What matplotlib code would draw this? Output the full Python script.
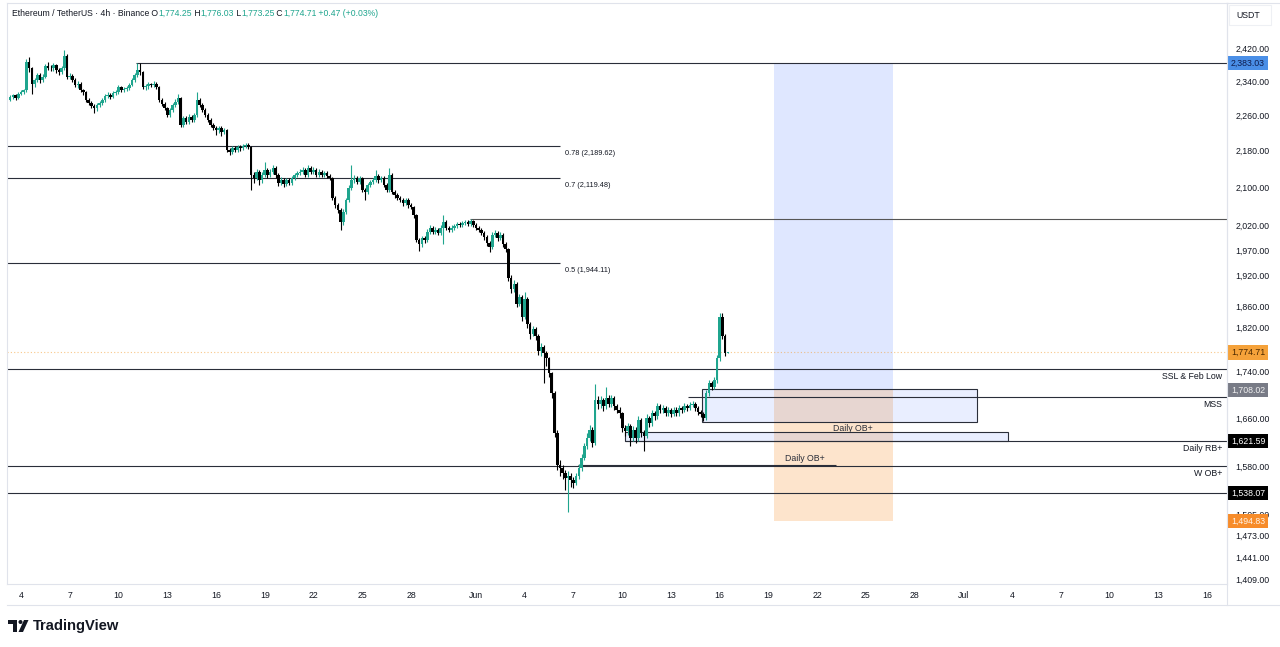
#!/usr/bin/env python3
"""ETH/USDT 4h chart with SMC levels, rebuilt from a TradingView screenshot."""

from datetime import datetime, timedelta

import matplotlib
matplotlib.use("Agg")
import matplotlib.pyplot as plt
import matplotlib.dates as mdates
from matplotlib.patches import Rectangle, Circle, Polygon
from matplotlib.lines import Line2D
from matplotlib.ticker import NullLocator
from matplotlib.transforms import IdentityTransform

plt.rcParams["font.family"] = ["Liberation Sans", "DejaVu Sans"]

# --- data -------------------------------------------------------------------
FIRST_CANDLE = datetime(2025, 5, 3, 8)
FIRST_OPEN = 2296

closes = [
    2302, 2306, 2300, 2310, 2313, 2318, 2385, 2370, 2332, 2342,
    2354, 2342, 2350, 2376, 2372, 2370, 2378, 2366, 2361, 2370,
    2400, 2350, 2352, 2342, 2330, 2334, 2318, 2313, 2295, 2288,
    2281, 2276, 2283, 2288, 2295, 2304, 2307, 2302, 2311, 2313,
    2325, 2318, 2320, 2323, 2330, 2342, 2354, 2366, 2361, 2325,
    2327, 2332, 2330, 2334, 2325, 2295, 2286, 2276, 2260, 2272,
    2283, 2290, 2300, 2237, 2253, 2244, 2256, 2249, 2260, 2295,
    2283, 2272, 2260, 2249, 2237, 2230, 2226, 2230, 2221, 2226,
    2181, 2177, 2185, 2181, 2188, 2185, 2190, 2192, 2188, 2126,
    2120, 2133, 2115, 2126, 2137, 2126, 2133, 2141, 2126, 2109,
    2115, 2107, 2115, 2109, 2120, 2126, 2131, 2133, 2137, 2126,
    2141, 2133, 2137, 2126, 2133, 2126, 2131, 2124, 2120, 2077,
    2062, 2052, 2027, 2048, 2073, 2098, 2115, 2120, 2111, 2120,
    2094, 2090, 2105, 2111, 2115, 2124, 2115, 2120, 2105, 2094,
    2126, 2090, 2083, 2077, 2073, 2066, 2073, 2062, 2058, 2041,
    1990, 1981, 1994, 1990, 2007, 2015, 2007, 2011, 2005, 2015,
    2027, 2015, 2011, 2015, 2019, 2023, 2021, 2025, 2027, 2023,
    2029, 2021, 2015, 2011, 2005, 1996, 1984, 1975, 2001, 2005,
    1994, 2001, 1981, 1971, 1914, 1893, 1903, 1865, 1878, 1840,
    1874, 1827, 1809, 1818, 1805, 1778, 1785, 1773, 1764, 1737,
    1702, 1635, 1583, 1578, 1570, 1562, 1565, 1559, 1554, 1565,
    1578, 1594, 1613, 1627, 1640, 1619, 1690, 1684, 1690, 1680,
    1694, 1684, 1694, 1680, 1674, 1668, 1643, 1638, 1646, 1627,
    1640, 1627, 1657, 1635, 1630, 1660, 1651, 1668, 1663, 1680,
    1674, 1677, 1668, 1674, 1667, 1674, 1668, 1677, 1674, 1680,
    1677, 1682, 1684, 1677, 1670, 1667, 1660, 1702, 1720, 1714,
    1725, 1764, 1840, 1805, 1774.25, 1774.71,
]

highs = [
    2306, 2310, 2309, 2314, 2318, 2322, 2392, 2398, 2374, 2348,
    2360, 2358, 2356, 2382, 2385, 2378, 2384, 2382, 2370, 2376,
    2416, 2406, 2358, 2356, 2346, 2340, 2337, 2322, 2316, 2299,
    2292, 2285, 2288, 2293, 2300, 2309, 2313, 2311, 2316, 2318,
    2330, 2328, 2325, 2327, 2335, 2347, 2359, 2383, 2383, 2364,
    2333, 2337, 2336, 2339, 2337, 2328, 2299, 2290, 2279, 2277,
    2288, 2297, 2310, 2303, 2258, 2257, 2262, 2260, 2266, 2314,
    2300, 2287, 2276, 2264, 2253, 2241, 2234, 2235, 2234, 2231,
    2229, 2186, 2190, 2190, 2193, 2193, 2195, 2197, 2196, 2191,
    2132, 2140, 2137, 2132, 2155, 2141, 2139, 2147, 2145, 2130,
    2121, 2119, 2120, 2119, 2125, 2131, 2136, 2139, 2143, 2141,
    2148, 2146, 2144, 2141, 2139, 2137, 2136, 2135, 2128, 2123,
    2081, 2066, 2056, 2053, 2078, 2104, 2148, 2126, 2124, 2125,
    2123, 2098, 2110, 2116, 2120, 2137, 2128, 2125, 2124, 2108,
    2141, 2130, 2094, 2087, 2081, 2077, 2078, 2077, 2066, 2061,
    2044, 1995, 1999, 1999, 2012, 2021, 2019, 2016, 2015, 2020,
    2041, 2031, 2019, 2020, 2023, 2027, 2026, 2029, 2031, 2030,
    2033, 2032, 2025, 2019, 2015, 2009, 2000, 1988, 2006, 2010,
    2009, 2006, 2004, 1985, 1974, 1920, 1910, 1906, 1884, 1881,
    1887, 1877, 1831, 1824, 1822, 1808, 1791, 1789, 1778, 1767,
    1740, 1706, 1640, 1590, 1582, 1575, 1572, 1570, 1563, 1570,
    1584, 1600, 1619, 1634, 1648, 1645, 1718, 1697, 1697, 1694,
    1714, 1700, 1700, 1698, 1684, 1678, 1671, 1648, 1652, 1650,
    1646, 1645, 1663, 1660, 1640, 1666, 1664, 1673, 1672, 1686,
    1684, 1682, 1681, 1679, 1677, 1679, 1678, 1682, 1681, 1685,
    1684, 1687, 1689, 1688, 1680, 1673, 1670, 1708, 1726, 1724,
    1731, 1770, 1848, 1848, 1808, 1776.03,
]

lows = [
    2292, 2298, 2296, 2297, 2306, 2309, 2315, 2362, 2310, 2326,
    2338, 2336, 2338, 2346, 2366, 2364, 2365, 2360, 2354, 2357,
    2366, 2345, 2344, 2337, 2325, 2324, 2313, 2308, 2290, 2283,
    2276, 2265, 2270, 2279, 2284, 2291, 2300, 2297, 2299, 2307,
    2310, 2313, 2314, 2316, 2319, 2327, 2338, 2350, 2355, 2320,
    2319, 2322, 2325, 2326, 2320, 2290, 2281, 2271, 2255, 2256,
    2268, 2279, 2286, 2232, 2232, 2239, 2240, 2244, 2245, 2256,
    2278, 2267, 2255, 2244, 2232, 2225, 2215, 2220, 2212, 2216,
    2176, 2170, 2172, 2176, 2177, 2180, 2181, 2186, 2183, 2094,
    2110, 2115, 2105, 2110, 2121, 2120, 2121, 2128, 2120, 2103,
    2104, 2101, 2103, 2104, 2105, 2116, 2121, 2126, 2128, 2121,
    2122, 2128, 2129, 2121, 2122, 2121, 2122, 2119, 2115, 2072,
    2057, 2046, 2011, 2020, 2044, 2069, 2094, 2110, 2106, 2107,
    2089, 2073, 2086, 2101, 2107, 2111, 2110, 2111, 2100, 2089,
    2090, 2085, 2078, 2072, 2068, 2061, 2062, 2057, 2053, 2036,
    1985, 1967, 1975, 1983, 1986, 2002, 2002, 2003, 2000, 2001,
    1981, 2010, 2006, 2007, 2011, 2015, 2016, 2017, 2021, 2019,
    2019, 2016, 2010, 2006, 2000, 1991, 1978, 1965, 1971, 1996,
    1989, 1990, 1976, 1965, 1908, 1885, 1888, 1858, 1860, 1832,
    1836, 1820, 1800, 1804, 1798, 1770, 1768, 1720, 1750, 1730,
    1695, 1628, 1575, 1565, 1560, 1542, 1508, 1548, 1545, 1550,
    1560, 1573, 1590, 1608, 1622, 1612, 1615, 1676, 1677, 1672,
    1676, 1678, 1679, 1674, 1668, 1660, 1636, 1630, 1632, 1613,
    1622, 1618, 1622, 1628, 1605, 1626, 1645, 1647, 1657, 1659,
    1668, 1669, 1663, 1664, 1662, 1663, 1663, 1664, 1669, 1670,
    1672, 1673, 1678, 1672, 1665, 1661, 1655, 1656, 1698, 1708,
    1709, 1721, 1760, 1800, 1768, 1773.25,
]

price_ticks = [2420, 2340, 2260, 2180, 2100, 2020, 1970, 1920, 1860, 1820,
               1740, 1660, 1580, 1505, 1473, 1441, 1409]

tick_dates = [
    "2025-05-04", "2025-05-07", "2025-05-10", "2025-05-13", "2025-05-16",
    "2025-05-19", "2025-05-22", "2025-05-25", "2025-05-28", "2025-06-01",
    "2025-06-04", "2025-06-07", "2025-06-10", "2025-06-13", "2025-06-16",
    "2025-06-19", "2025-06-22", "2025-06-25", "2025-06-28", "2025-07-01",
    "2025-07-04", "2025-07-07", "2025-07-10", "2025-07-13", "2025-07-16",
]
tick_labels = ["4", "7", "10", "13", "16", "19", "22", "25", "28", "Jun",
               "4", "7", "10", "13", "16", "19", "22", "25", "28", "Jul",
               "4", "7", "10", "13", "16"]

# fib retracement lines
fib_ratios = ["0.78", "0.7", "0.5"]
fib_prices = [2189.62, 2119.48, 1944.11]
FIB_END = datetime(2025, 6, 6, 4)

# levels
SWING_HIGH = 2383.03
SWING_HIGH_START = datetime(2025, 5, 11, 2)
EQ_LEVEL = 2033
EQ_START = datetime(2025, 5, 31, 15)
SSL_LEVEL = 1745
MSS_LEVEL = 1696
MSS_START = datetime(2025, 6, 14, 1)
RB_LEVEL = 1621.59
RB_START = datetime(2025, 6, 10, 4)
W_OB_LEVEL = 1580
LOW_LEVEL = 1538.07
DAILY_OB_LINE = 1583
DAILY_OB_LINE_SPAN = (datetime(2025, 6, 7, 7), datetime(2025, 6, 23, 4))
LAST_PRICE = 1774.71

# order blocks (start, end, low, high)
ob_boxes = [
    (datetime(2025, 6, 14, 22), datetime(2025, 7, 1, 20), 1653, 1710),
    (datetime(2025, 6, 10, 4), datetime(2025, 7, 3, 18), 1621.59, 1636),
]

# long position tool
POS_SPAN = (datetime(2025, 6, 19, 8), datetime(2025, 6, 26, 16))
POS_ENTRY = 1708.02
POS_TARGET = 2383.03
POS_STOP = 1494.83

UP = "#1fa58e"
DOWN = "#000000"
TXT = "#131722"


def price_tag(ax, price, text, fc, tc):
    ax.annotate(text, xy=(1, price), xycoords=("axes fraction", "data"),
                xytext=(4, 0), textcoords="offset pixels", ha="left", va="center",
                fontsize=6.3, color=tc, annotation_clip=False, zorder=10,
                bbox=dict(boxstyle="square,pad=0.3", fc=fc, ec="none"))


def side_label(ax, price, text):
    ax.annotate(text, xy=(1, price), xycoords=("axes fraction", "data"),
                xytext=(-5, -3), textcoords="offset pixels", ha="right", va="top",
                fontsize=6.3, color=TXT, zorder=6)


def main() -> None:
    n = len(closes)
    assert len(highs) == n and len(lows) == n
    opens = [FIRST_OPEN] + closes[:-1]
    times = [FIRST_CANDLE + timedelta(hours=4 * i) for i in range(n)]
    x = mdates.date2num(times)

    fig = plt.figure(figsize=(12.8, 6.47), dpi=100)
    ax = fig.add_axes([7 / 1280, 63 / 647, 1220 / 1280, 581 / 647])
    ax.set_yscale("log")
    ax.set_ylim(1401.7, 2533.5)
    x_may4 = mdates.date2num(datetime(2025, 5, 4))
    ax.set_xlim(x_may4 - 0.8615, x_may4 + 74.22)
    x_right = ax.get_xlim()[1]
    x_left = ax.get_xlim()[0]

    # position tool
    p0, p1 = mdates.date2num(POS_SPAN[0]), mdates.date2num(POS_SPAN[1])
    ax.fill_between([p0, p1], POS_ENTRY, POS_TARGET, color="#2962ff", alpha=0.15,
                    linewidth=0, zorder=1)
    ax.fill_between([p0, p1], POS_STOP, POS_ENTRY, color="#f57c00", alpha=0.2,
                    linewidth=0, zorder=1)

    # order blocks
    for start, end, lo, hi in ob_boxes:
        s, e = mdates.date2num(start), mdates.date2num(end)
        ax.add_patch(Rectangle((s, lo), e - s, hi - lo, fc=(0.16, 0.38, 1.0, 0.1),
                               ec="#2a2e39", lw=0.8, zorder=2))

    line_kw = dict(color="#2a2e39", lw=0.8, zorder=2)
    # fib lines
    fe = mdates.date2num(FIB_END)
    for ratio, price in zip(fib_ratios, fib_prices):
        ax.hlines(price, x_left, fe, **line_kw)
        ax.annotate(f"{ratio} ({price:,.2f})", xy=(fe, price), xytext=(5, -4),
                    textcoords="offset pixels", ha="left", va="top",
                    fontsize=5.3, color=TXT)

    ax.hlines(SWING_HIGH, mdates.date2num(SWING_HIGH_START), x_right, **line_kw)
    ax.hlines(EQ_LEVEL, mdates.date2num(EQ_START), x_right, color="#555", lw=0.8, zorder=2)
    ax.hlines(SSL_LEVEL, x_left, x_right, **line_kw)
    ax.hlines(MSS_LEVEL, mdates.date2num(MSS_START), x_right, **line_kw)
    ax.hlines(RB_LEVEL, mdates.date2num(RB_START), x_right, **line_kw)
    ax.hlines(W_OB_LEVEL, x_left, x_right, **line_kw)
    ax.hlines(LOW_LEVEL, x_left, x_right, **line_kw)
    d0, d1 = mdates.date2num(DAILY_OB_LINE_SPAN[0]), mdates.date2num(DAILY_OB_LINE_SPAN[1])
    ax.hlines(DAILY_OB_LINE, d0, d1, **line_kw)
    ax.axhline(LAST_PRICE, color="#f5a23a", lw=0.8, ls=(0, (1, 2)), alpha=0.6, zorder=2)

    side_label(ax, SSL_LEVEL, "SSL & Feb Low")
    side_label(ax, MSS_LEVEL, "MSS")
    side_label(ax, RB_LEVEL, "Daily RB+")
    side_label(ax, W_OB_LEVEL, "W OB+")

    ob_lo = ob_boxes[0][2]
    ax.annotate("Daily OB+", xy=(mdates.date2num(datetime(2025, 6, 24, 5)), ob_lo),
                xytext=(0, -2), textcoords="offset pixels", ha="center", va="top",
                fontsize=6.3, color="#2a2e39", zorder=6)
    ax.annotate("Daily OB+", xy=((d0 + d1) / 2 + 6, DAILY_OB_LINE),
                xytext=(0, 2), textcoords="offset pixels", ha="center", va="bottom",
                fontsize=6.3, color="#2a2e39", zorder=6)

    # candles
    colors = [UP if c >= o else DOWN for o, c in zip(opens, closes)]
    ax.vlines(x, lows, highs, colors=colors, linewidth=0.8, zorder=3)
    bottoms = [min(o, c) for o, c in zip(opens, closes)]
    heights = [max(abs(c - o), 0.8) for o, c in zip(opens, closes)]
    ax.bar(x, heights, bottom=bottoms, width=0.16, color=colors, linewidth=0, zorder=4)

    # axes styling
    for sp in ax.spines.values():
        sp.set_color("#e0e3eb")
        sp.set_linewidth(0.8)
    ax.yaxis.tick_right()
    ax.yaxis.set_minor_locator(NullLocator())
    ax.set_yticks(price_ticks)
    ax.set_yticklabels([f"{p:,.2f}" for p in price_ticks])
    ax.tick_params(axis="y", length=0, pad=6, labelsize=6.3, labelcolor=TXT)
    ax.set_xticks(mdates.date2num([datetime.fromisoformat(d) for d in tick_dates]))
    ax.set_xticklabels(tick_labels)
    ax.tick_params(axis="x", length=0, pad=5, labelsize=6.3, labelcolor=TXT)

    # axis price tags
    price_tag(ax, POS_TARGET, f"{POS_TARGET:,.2f}", "#4a8fe7", "#0d1b4c")
    price_tag(ax, LAST_PRICE, f"{LAST_PRICE:,.2f}", "#f5a23a", "#4a2800")
    price_tag(ax, POS_ENTRY, f"{POS_ENTRY:,.2f}", "#787b86", "#f0f0f0")
    price_tag(ax, RB_LEVEL, f"{RB_LEVEL:,.2f}", "#000000", "#ffffff")
    price_tag(ax, LOW_LEVEL, f"{LOW_LEVEL:,.2f}", "#000000", "#ffffff")
    price_tag(ax, POS_STOP, f"{POS_STOP:,.2f}", "#f78c2a", "#fff3e6")

    # frame lines outside the plot (pixel coords)
    ident = IdentityTransform()
    fig.add_artist(Line2D([7, 1280], [647 - 605, 647 - 605], color="#e0e3eb", lw=0.8,
                          transform=ident))
    fig.add_artist(Line2D([1227, 1227], [647 - 605, 647 - 3], color="#e0e3eb", lw=0.8,
                          transform=ident))
    fig.add_artist(Line2D([1227, 1280], [647 - 3, 647 - 3], color="#e0e3eb", lw=0.8,
                          transform=ident))
    fig.add_artist(Rectangle((1229, 647 - 25), 42, 20, fc="none", ec="#eef0f4", lw=0.8,
                             transform=ident))
    fig.text(1236 / 1280, 1 - 15 / 647, "USDT", fontsize=6.3, color=TXT, va="center")

    # header
    pieces = [("Ethereum / TetherUS · 4h · Binance", TXT), (" O", TXT), ("1,774.25", UP),
              (" H", TXT), ("1,776.03", UP), (" L", TXT), ("1,773.25", UP),
              (" C", TXT), ("1,774.71", UP), (" +0.47 (+0.03%)", UP)]
    prev = fig.text(12 / 1280, 1 - 13 / 647, pieces[0][0], fontsize=6.2,
                    color=pieces[0][1], va="center", ha="left")
    for text, col in pieces[1:]:
        prev = ax.annotate(text, xy=(1, 0), xycoords=prev, va="bottom", ha="left",
                           fontsize=6.2, color=col, annotation_clip=False)

    # TradingView logo
    dark = "#131722"
    fig.add_artist(Rectangle((8, 647 - 624), 9, 4, fc=dark, ec="none", transform=ident))
    fig.add_artist(Rectangle((13, 647 - 632), 4, 12, fc=dark, ec="none", transform=ident))
    fig.add_artist(Circle((20.5, 647 - 622), 2, fc=dark, ec="none", transform=ident))
    fig.add_artist(Polygon([(18.5, 647 - 632), (23, 647 - 632), (28.5, 647 - 620),
                            (24, 647 - 620)], closed=True, fc=dark, ec="none",
                           transform=ident))
    fig.text(33 / 1280, 1 - 626 / 647, "TradingView", fontsize=10.6, fontweight="bold",
             color=dark, va="center", ha="left")

    fig.savefig("out.png", dpi=100, facecolor="white")


if __name__ == "__main__":
    main()
